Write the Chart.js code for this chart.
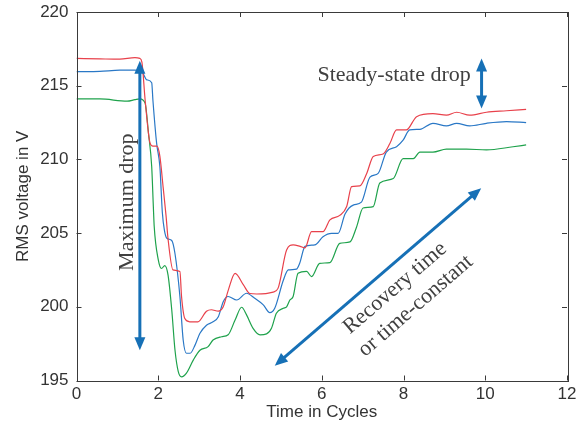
<!DOCTYPE html>
<html>
<head>
<meta charset="utf-8">
<script src="https://cdn.jsdelivr.net/npm/chart.js@4"></script>
<style>
html,body{margin:0;padding:0;background:#fff;}
#wrap{width:581px;height:423px;position:relative;}
</style>
</head>
<body>
<div id="wrap"><canvas id="c" width="581" height="423"></canvas></div>
<script>
// ---- data ----
const xTicks = [0, 2, 4, 6, 8, 10, 12];
const yTicks = [195, 200, 205, 210, 215, 220];

const redTime = [0,0.57,1.06,1.43,1.55,1.60,1.68,1.80,1.87,1.97,2.04,2.12,2.19,2.24,2.36,2.53,2.57,2.65,2.77,2.97,3.18,3.30,3.47,3.59,3.71,3.88,4.08,4.24,4.41,4.81,4.93,5.14,5.30,5.47,5.59,5.75,6.03,6.20,6.44,6.61,6.73,6.93,7.10,7.26,7.50,7.67,7.83,8.07,8.32,8.72,9.05,9.30,9.62,10.03,10.52,11.0];
const redVolt = [216.85,216.82,216.8,216.9,216.85,216.6,214.0,211.1,210.9,210.9,210.2,208.1,206.2,204.6,202.5,202.4,200.7,199.2,198.98,198.98,199.7,199.8,199.7,200.0,201.1,202.27,201.5,200.9,200.87,201.0,201.25,203.85,204.2,204.1,204.0,205.1,205.1,205.9,206.2,206.8,208.15,208.2,209.05,210.2,210.37,211.1,212.0,212.0,212.9,213.1,213.0,213.2,213.0,213.2,213.3,213.4];

const blueTime = [0,0.57,1.06,1.43,1.60,1.72,1.84,1.87,1.96,2.04,2.10,2.15,2.21,2.33,2.41,2.53,2.61,2.69,2.78,2.90,3.02,3.18,3.34,3.47,3.59,3.71,3.92,4.16,4.36,4.57,4.73,4.85,5.06,5.18,5.38,5.46,5.59,5.83,6.03,6.24,6.40,6.57,6.77,6.97,7.18,7.38,7.58,7.83,7.99,8.15,8.40,8.72,9.05,9.30,9.62,10.03,10.52,11.0];
const blueVolt = [215.95,215.97,216.05,216.05,215.95,215.4,215.2,214.0,211.1,209.5,206.4,205.2,204.65,204.5,203.6,200.7,197.75,196.85,196.85,197.4,198.2,198.75,198.98,199.33,200.35,200.7,200.46,200.92,200.58,200.13,199.6,199.9,201.8,202.5,202.55,202.95,204.1,204.2,204.75,204.98,204.98,206.3,206.9,207.1,208.8,209.05,210.5,210.86,211.3,212.0,212.04,212.45,212.27,212.45,212.27,212.45,212.56,212.5];

const greenTime = [0,0.57,1.24,1.43,1.55,1.68,1.76,1.84,1.88,1.90,2.00,2.08,2.16,2.24,2.33,2.41,2.49,2.57,2.69,2.86,3.02,3.22,3.34,3.55,3.71,3.88,4.04,4.16,4.32,4.49,4.65,4.77,4.89,5.06,5.14,5.22,5.30,5.42,5.63,5.75,5.95,6.20,6.44,6.69,6.85,7.01,7.26,7.42,7.75,7.99,8.24,8.40,8.72,9.05,9.54,10.03,10.68,11.0];
const greenVolt = [214.1,214.1,213.95,214.05,214.1,213.8,211.8,209.5,206.8,205.5,203.2,202.6,202.8,202.15,199.8,197.05,195.6,195.25,195.5,196.4,197.05,197.3,197.75,197.97,198.1,199.1,199.97,199.45,198.54,198.1,198.16,198.54,199.56,199.9,200.0,200.46,200.7,202.27,202.4,202.05,202.95,203.0,204.3,204.4,205.4,206.7,206.8,208.4,208.7,210.05,210.05,210.5,210.5,210.7,210.7,210.64,210.86,210.98];

const xTitle = "Time in Cycles";
const yTitle = "RMS voltage in V";
const noteSteady = "Steady-state drop";
const noteMax = "Maximum drop";
const noteRecovery = ["Recovery time", "or time-constant"];

function pts(t, v){ return t.map((x,i)=>({x:x, y:v[i]})); }

const ARROW = '#1670b6';
const TEXT = '#404040';
const SERIF = '"Liberation Serif", "Times New Roman", serif';

function arrowHead(ctx, x1, y1, x2, y2){
  const a = Math.atan2(y2-y1, x2-x1);
  const L = 13, W = 5.5;
  ctx.beginPath();
  ctx.moveTo(x2, y2);
  ctx.lineTo(x2 - L*Math.cos(a) + W*Math.sin(a), y2 - L*Math.sin(a) - W*Math.cos(a));
  ctx.lineTo(x2 - L*Math.cos(a) - W*Math.sin(a), y2 - L*Math.sin(a) + W*Math.cos(a));
  ctx.closePath();
  ctx.fill();
}
function arrow(ctx, x1, y1, x2, y2, headStart, headEnd){
  const a = Math.atan2(y2-y1, x2-x1);
  const s = headStart ? 10 : 0, e = headEnd ? 10 : 0;
  ctx.beginPath();
  ctx.moveTo(x1 + s*Math.cos(a), y1 + s*Math.sin(a));
  ctx.lineTo(x2 - e*Math.cos(a), y2 - e*Math.sin(a));
  ctx.stroke();
  if (headEnd) arrowHead(ctx, x1, y1, x2, y2);
  if (headStart) arrowHead(ctx, x2, y2, x1, y1);
}

const frame = {
  id: 'frame',
  afterDraw(chart){
    const ctx = chart.ctx, a = chart.chartArea;
    const xs = chart.scales.x, ys = chart.scales.y;
    ctx.save();
    ctx.strokeStyle = '#3a3a3a';
    ctx.lineWidth = 1;
    ctx.strokeRect(Math.round(a.left)+0.5, Math.round(a.top)+0.5, Math.round(a.right-a.left), Math.round(a.bottom-a.top));
    ctx.beginPath();
    const T = 5;
    xTicks.forEach(v=>{
      const px = Math.round(xs.getPixelForValue(v))+0.5;
      ctx.moveTo(px, a.bottom); ctx.lineTo(px, a.bottom - T);
      ctx.moveTo(px, a.top); ctx.lineTo(px, a.top + T);
    });
    yTicks.forEach(v=>{
      const py = Math.round(ys.getPixelForValue(v))+0.5;
      ctx.moveTo(a.left, py); ctx.lineTo(a.left + T, py);
      ctx.moveTo(a.right, py); ctx.lineTo(a.right - T, py);
    });
    ctx.stroke();

    // annotations
    ctx.strokeStyle = ARROW; ctx.fillStyle = ARROW; ctx.lineWidth = 3;
    const X = v=>xs.getPixelForValue(v), Y = v=>ys.getPixelForValue(v);
    arrow(ctx, X(1.55), Y(197.05), X(1.55), Y(216.7), true, true);
    arrow(ctx, X(9.91), Y(213.45), X(9.91), Y(216.85), true, true);
    arrow(ctx, X(4.85), Y(196.0), X(9.9), Y(208.05), true, true);

    ctx.fillStyle = TEXT;
    ctx.font = '22px ' + SERIF;
    ctx.textAlign = 'center'; ctx.textBaseline = 'middle';
    ctx.fillText(noteSteady, X(7.77), Y(215.7));
    ctx.save();
    ctx.translate(X(1.24), Y(207.1));
    ctx.rotate(-Math.PI/2);
    ctx.fillText(noteMax, 0, 0);
    ctx.restore();
    ctx.save();
    ctx.translate(X(8.0), Y(200.6));
    ctx.rotate(-40.8*Math.PI/180);
    ctx.fillText(noteRecovery[0], 0, -13);
    ctx.fillText(noteRecovery[1], 4, 14);
    ctx.restore();
    ctx.restore();
  }
};

new Chart(document.getElementById('c'), {
  type: 'line',
  data: {
    datasets: [
      {data: pts(redTime, redVolt), borderColor: '#e8414b', borderWidth: 1.2},
      {data: pts(blueTime, blueVolt), borderColor: '#2a78c6', borderWidth: 1.2},
      {data: pts(greenTime, greenVolt), borderColor: '#1fa24c', borderWidth: 1.2}
    ]
  },
  options: {
    responsive: false,
    animation: false,
    devicePixelRatio: 1,
    layout: {padding: {top: 12, right: 14, left: 0, bottom: 0}},
    elements: {point: {radius: 0}, line: {cubicInterpolationMode: 'monotone', fill: false}},
    plugins: {legend: {display: false}, tooltip: {enabled: false}},
    scales: {
      x: {
        type: 'linear', min: 0, max: 12,
        grid: {display: false, drawTicks: false},
        border: {display: false},
        afterBuildTicks: s => { s.ticks = xTicks.map(v=>({value:v})); },
        afterFit: s => { s.height = 42.5; s.paddingLeft = 0; s.paddingRight = 0; },
        ticks: {padding: 4, color: '#333', font: {family: 'Liberation Sans, Arial', size: 17}, maxRotation: 0},
        title: {display: true, text: xTitle, color: '#333', font: {family: 'Liberation Sans, Arial', size: 17}, padding: {top: -2, bottom: 0}}
      },
      y: {
        type: 'linear', min: 195, max: 220,
        grid: {display: false, drawTicks: false},
        border: {display: false},
        afterBuildTicks: s => { s.ticks = yTicks.map(v=>({value:v})); },
        afterFit: s => { s.width = 76.5; s.paddingTop = 0; s.paddingBottom = 0; },
        ticks: {padding: 8, color: '#333', font: {family: 'Liberation Sans, Arial', size: 17}},
        title: {display: true, text: yTitle, color: '#333', font: {family: 'Liberation Sans, Arial', size: 17}, padding: {top: 13, bottom: 0}}
      }
    }
  },
  plugins: [frame]
});
</script>
</body>
</html>
